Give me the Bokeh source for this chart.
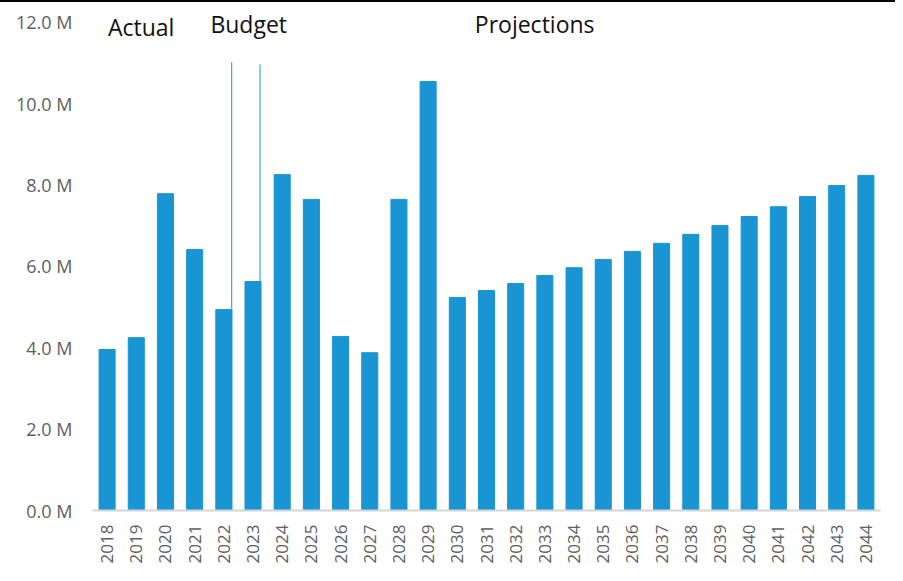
import math
from bokeh.plotting import figure
from bokeh.models import Range1d, FixedTicker, PrintfTickFormatter
from bokeh.core.properties import value
from bokeh.embed import file_html
from bokeh.resources import INLINE

years = list(range(2018, 2045))
values_m = [3.96, 4.25, 7.79, 6.42, 4.94, 5.63, 8.26, 7.65, 4.28, 3.88, 7.65, 10.55,
            5.24, 5.41, 5.58, 5.78, 5.97, 6.17, 6.37, 6.57, 6.79, 7.01, 7.23, 7.47,
            7.72, 7.99, 8.24]
y_ticks = [0, 2, 4, 6, 8, 10, 12]

section_labels = ["Actual", "Budget", "Projections"]
section_x = [2018.03, 2021.54, 2030.6]
section_y = [11.90, 11.97, 11.97]

divider_x = [2022.27, 2023.24]
divider_top = [11.02, 10.97]

BLUE = "#1A95D3"
GREY = "#606060"
FONT = "Open Sans"

p = figure(width=895, height=571, output_backend="svg", toolbar_location=None,
           x_range=Range1d(2017.5, 2044.5), y_range=Range1d(0, 12.295),
           min_border_left=92, min_border_right=15, min_border_top=8, min_border_bottom=63)
p.outline_line_color = None
p.grid.visible = False
p.background_fill_color = "white"
p.border_fill_color = "white"
p.styles = {"border-top": "2px solid black"}

p.vbar(x=years, top=values_m, width=0.55, color=BLUE)

p.segment(x0=divider_x, x1=divider_x, y0=[0, 0], y1=divider_top, line_color=BLUE, line_width=1)

p.text(x=section_x, y=section_y, text=section_labels, text_font=value(FONT),
       text_font_size="23px", text_color="#111111", text_baseline="alphabetic", text_align="left")

xa = p.xaxis[0]
xa.ticker = FixedTicker(ticks=years)
xa.major_label_orientation = math.pi / 2
xa.major_label_text_font = FONT
xa.major_label_text_font_size = "17px"
xa.major_label_text_color = GREY
xa.major_tick_line_color = None
xa.minor_tick_line_color = None
xa.axis_line_color = "#d4d4d4"
xa.axis_line_width = 2
xa.major_label_standoff = 8

ya = p.yaxis[0]
ya.ticker = FixedTicker(ticks=y_ticks)
ya.formatter = PrintfTickFormatter(format="%.1f M")
ya.major_label_text_font = FONT
ya.major_label_text_font_size = "18px"
ya.major_label_text_color = GREY
ya.major_tick_line_color = None
ya.minor_tick_line_color = None
ya.axis_line_color = None
ya.major_label_standoff = 14

open("out.html", "w").write(file_html(p, INLINE))
